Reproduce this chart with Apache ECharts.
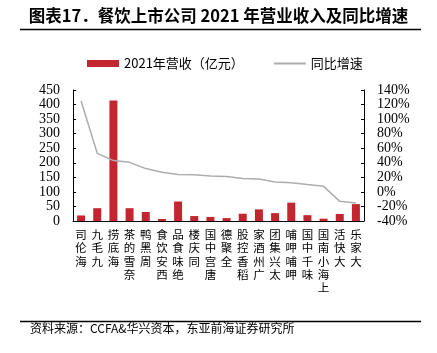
<!DOCTYPE html>
<html>
<head>
<meta charset="utf-8">
<script src="https://cdn.jsdelivr.net/npm/echarts@6/dist/echarts.min.js"></script>
<style>
  html, body { margin: 0; padding: 0; background: #fff; }
  #chart { width: 437px; height: 353px; }
</style>
</head>
<body>
<div id="chart"></div>
<script>
const companies = ["海伦司", "九毛九", "海底捞", "奈雪的茶", "周黑鸭", "西安饮食", "绝味食品", "同庆楼", "唐宫中国",
  "全聚德", "稻香控股", "广州酒家", "太兴集团", "呷哺呷哺", "味千中国", "上海小南国", "大快活", "大家乐"];
const revenue = [19, 44, 414, 44, 31, 7, 67, 17, 14, 10, 25, 40, 27, 63, 20, 8, 24, 58];
const growth = [125, 53, 43, 40.6, 32, 27, 24, 23.6, 22, 21, 18.5, 17.7, 13.6, 12.6, 10, 7.6, -13, -15.3];
const leftTicks = { min: 0, max: 450, interval: 50 };
const rightTicks = { min: -40, max: 140, interval: 20 };

const cjk = "'Noto Sans CJK SC', sans-serif";
const serif = "'Liberation Serif', 'DejaVu Serif', serif";

const chart = echarts.init(document.getElementById("chart"));
chart.setOption({
  animation: false,
  graphic: [
    {
      type: "text", left: "center", top: 7,
      style: { text: "图表17．餐饮上市公司 2021 年营业收入及同比增速", font: "bold 16.5px " + cjk, fill: "#000" }
    },
    { type: "line", shape: { x1: 20, y1: 29.5, x2: 421, y2: 29.5 }, style: { stroke: "#000", lineWidth: 1.5 } },
    { type: "line", shape: { x1: 20, y1: 321.5, x2: 421, y2: 321.5 }, style: { stroke: "#000", lineWidth: 1.5 } },
    {
      type: "text", left: 30, top: 322,
      style: { text: "资料来源：CCFA&华兴资本，东亚前海证券研究所", font: "12px " + cjk, fill: "#000" }
    }
  ],
  legend: {
    left: 82, top: 52, itemGap: 29, itemWidth: 32, itemHeight: 7,
    textStyle: { fontFamily: cjk, fontSize: 13, color: "#000" },
    data: [
      { name: "2021年营收（亿元）", icon: "rect" },
      { name: "同比增速", itemStyle: { opacity: 0 } }
    ]
  },
  grid: { left: 73, right: 73, top: 90, bottom: 132 },
  xAxis: {
    type: "category",
    data: companies,
    axisLine: { lineStyle: { color: "#000", width: 1 } },
    axisTick: { show: false },
    axisLabel: {
      interval: 0, margin: 7, verticalAlign: "top", lineHeight: 13.3,
      fontFamily: cjk, fontSize: 11.5, color: "#000",
      formatter: (v) => v.split("").reverse().join("\n")
    }
  },
  yAxis: [
    {
      type: "value", ...leftTicks,
      axisLine: { show: true, lineStyle: { color: "#000" } },
      axisTick: { show: true, inside: true, length: 3, lineStyle: { color: "#000" } },
      axisLabel: { margin: 13, fontFamily: serif, fontSize: 14, color: "#000" },
      splitLine: { show: false }
    },
    {
      type: "value", ...rightTicks,
      axisLine: { show: true, lineStyle: { color: "#000" } },
      axisTick: { show: true, inside: true, length: 3, lineStyle: { color: "#000" } },
      axisLabel: { margin: 13, fontFamily: serif, fontSize: 14, color: "#000", formatter: "{value}%" },
      splitLine: { show: false }
    }
  ],
  series: [
    {
      name: "2021年营收（亿元）", type: "bar", data: revenue, barWidth: 8,
      itemStyle: { color: "#C3262F" }
    },
    {
      name: "同比增速", type: "line", yAxisIndex: 1, data: growth, symbol: "none",
      lineStyle: { color: "#ADADAD", width: 1.5 }, itemStyle: { color: "#ADADAD" }
    }
  ]
});
</script>
</body>
</html>
